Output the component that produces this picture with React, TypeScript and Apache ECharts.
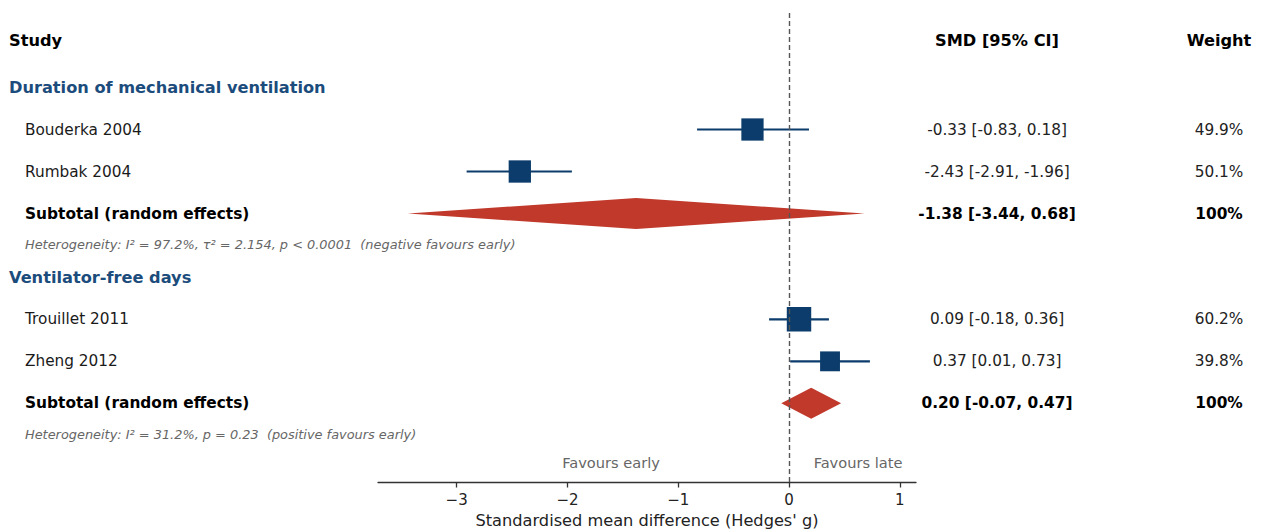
import React, { useEffect, useRef } from "react";
import * as echarts from "echarts";

// ---------- data ----------
const studyNames = ["Bouderka 2004", "Rumbak 2004", "Trouillet 2011", "Zheng 2012"];
const studySMD = [-0.33, -2.43, 0.09, 0.37];
const studyLo = [-0.83, -2.91, -0.18, 0.01];
const studyHi = [0.18, -1.96, 0.36, 0.73];
const studyWeight = [49.9, 50.1, 60.2, 39.8];
const studyRow = [1, 2, 5.52, 6.52];

const groupNames = ["Duration of mechanical ventilation", "Ventilator-free days"];
const groupRow = [0, 4.52];
const subtotalSMD = [-1.38, 0.2];
const subtotalLo = [-3.44, -0.07];
const subtotalHi = [0.68, 0.47];
const subtotalRow = [3, 7.52];
const hetText = [
  "Heterogeneity: I\u00b2 = 97.2%, \u03c4\u00b2 = 2.154, p < 0.0001  (negative favours early)",
  "Heterogeneity: I\u00b2 = 31.2%, p = 0.23  (positive favours early)",
];
const hetRow = [3.74, 8.26];

const xTicks = [-3, -2, -1, 0, 1];

// ---------- layout / style ----------
const FONT = "'DejaVu Sans', sans-serif";
const NAVY = "#0b3c6b";
const RED = "#c0392b";
const BLUE_HDR = "#1b4c7c";
const ROW0_PX = 87.5;
const ROW_STEP = 42;
const GRID_TOP = 13;
const GRID_BOTTOM_PX = 482.5;
const GRID_LEFT = 378;
const GRID_RIGHT_PX = 916;
const X_MIN = -3.71;
const X_MAX = 1.146;

const rowPx = (r: number) => ROW0_PX + r * ROW_STEP;
const fmtSMD = (v: number) => v.toFixed(2);

function txt(x: number, y: number, text: string, opts: any = {}) {
  return {
    type: "text",
    x,
    y,
    silent: true,
    style: {
      text,
      font: opts.font || `15.3px ${FONT}`,
      fill: opts.fill || "#1a1a1a",
      align: opts.align || "left",
      textAlign: opts.align || "left",
      verticalAlign: "middle",
      textVerticalAlign: "middle",
    },
  };
}

export default function App() {
  const ref = useRef<HTMLDivElement>(null);

  useEffect(() => {
    document.body.style.margin = "0";
    if (!ref.current) return;
    const chart = echarts.init(ref.current, null, { renderer: "svg" });

    const graphics: any[] = [];
    const HDR = `bold 16.2px ${FONT}`;
    const BOLD = `bold 15.4px ${FONT}`;
    // headers
    graphics.push(txt(9, 40, "Study", { font: HDR, fill: "#000" }));
    graphics.push(txt(997, 40, "SMD [95% CI]", { font: HDR, fill: "#000", align: "center" }));
    graphics.push(txt(1219, 40, "Weight", { font: HDR, fill: "#000", align: "center" }));

    groupNames.forEach((g, gi) => {
      graphics.push(txt(9, rowPx(groupRow[gi]), g, { font: HDR, fill: BLUE_HDR }));
      graphics.push(txt(25, rowPx(subtotalRow[gi]), "Subtotal (random effects)", { font: BOLD, fill: "#000" }));
      graphics.push(
        txt(
          997,
          rowPx(subtotalRow[gi]),
          `${fmtSMD(subtotalSMD[gi])} [${fmtSMD(subtotalLo[gi])}, ${fmtSMD(subtotalHi[gi])}]`,
          { font: BOLD, fill: "#000", align: "center" }
        )
      );
      graphics.push(txt(1219, rowPx(subtotalRow[gi]), "100%", { font: BOLD, fill: "#000", align: "center" }));
      graphics.push(txt(25, rowPx(hetRow[gi]), hetText[gi], { font: `italic 12.9px ${FONT}`, fill: "#666" }));
    });

    studyNames.forEach((s, i) => {
      graphics.push(txt(25, rowPx(studyRow[i]), s, { fill: "#1a1a1a" }));
      graphics.push(
        txt(997, rowPx(studyRow[i]), `${fmtSMD(studySMD[i])} [${fmtSMD(studyLo[i])}, ${fmtSMD(studyHi[i])}]`, {
          fill: "#222",
          align: "center",
        })
      );
      graphics.push(txt(1219, rowPx(studyRow[i]), `${studyWeight[i].toFixed(1)}%`, { fill: "#222", align: "center" }));
    });

    graphics.push(txt(611, 462, "Favours early", { font: `14.6px ${FONT}`, fill: "#666", align: "center" }));
    graphics.push(txt(858, 462, "Favours late", { font: `14.6px ${FONT}`, fill: "#666", align: "center" }));

    const yMin = (GRID_TOP - ROW0_PX) / ROW_STEP;
    const yMax = (GRID_BOTTOM_PX - ROW0_PX) / ROW_STEP;

    const studyData = studyNames.map((_, i) => [studySMD[i], studyLo[i], studyHi[i], studyRow[i], studyWeight[i]]);
    const subData = subtotalSMD.map((_, i) => [subtotalSMD[i], subtotalLo[i], subtotalHi[i], subtotalRow[i]]);

    chart.setOption({
      animation: false,
      textStyle: { fontFamily: FONT },
      grid: {
        left: GRID_LEFT,
        width: GRID_RIGHT_PX - GRID_LEFT,
        top: GRID_TOP,
        height: GRID_BOTTOM_PX - GRID_TOP,
        containLabel: false,
        outerBoundsMode: "none",
      },
      xAxis: {
        type: "value",
        min: X_MIN,
        max: X_MAX,
        axisLine: { show: true, onZero: false, lineStyle: { color: "#333", width: 1.3 } },
        axisTick: { show: true, customValues: xTicks, length: 5, lineStyle: { color: "#333", width: 1.3 } },
        axisLabel: {
          customValues: xTicks,
          fontSize: 15,
          color: "#222",
          margin: 10,
          fontFamily: FONT,
          formatter: (v: number) => (v < 0 ? "\u2212" + Math.abs(v) : String(v)),
        },
        splitLine: { show: false },
        name: "Standardised mean difference (Hedges' g)",
        nameLocation: "middle",
        nameGap: 30,
        nameTextStyle: { fontSize: 16.2, color: "#222", fontFamily: FONT },
      },
      yAxis: { type: "value", inverse: true, min: yMin, max: yMax, show: false },
      series: [
        {
          type: "custom",
          name: "subtotals",
          data: subData,
          encode: { x: [0, 1, 2], y: 3 },
          renderItem: (params: any, api: any) => {
            const y = api.value(3);
            const c = api.coord([api.value(0), y]);
            const l = api.coord([api.value(1), y]);
            const h = api.coord([api.value(2), y]);
            const hh = 15.5;
            return {
              type: "polygon",
              shape: { points: [[l[0], l[1]], [c[0], c[1] - hh], [h[0], h[1]], [c[0], c[1] + hh]] },
              style: { fill: RED },
            };
          },
          z: 2,
        },
        {
          type: "custom",
          name: "studies",
          data: studyData,
          encode: { x: [0, 1, 2], y: 3 },
          renderItem: (params: any, api: any) => {
            const y = api.value(3);
            const c = api.coord([api.value(0), y]);
            const l = api.coord([api.value(1), y]);
            const h = api.coord([api.value(2), y]);
            const s = 3.15 * Math.sqrt(api.value(4));
            return {
              type: "group",
              children: [
                { type: "line", shape: { x1: l[0], y1: l[1], x2: h[0], y2: h[1] }, style: { stroke: NAVY, lineWidth: 2.2 } },
                { type: "rect", shape: { x: c[0] - s / 2, y: c[1] - s / 2, width: s, height: s }, style: { fill: NAVY } },
              ],
            };
          },
          markLine: {
            silent: true,
            symbol: "none",
            label: { show: false },
            lineStyle: { type: [5, 3], color: "#555", width: 1.4 },
            data: [{ xAxis: 0 }],
          },
          z: 3,
        },
      ],
      graphic: graphics,
    });

    return () => chart.dispose();
  }, []);

  return <div ref={ref} style={{ width: 1261, height: 529 }} />;
}
